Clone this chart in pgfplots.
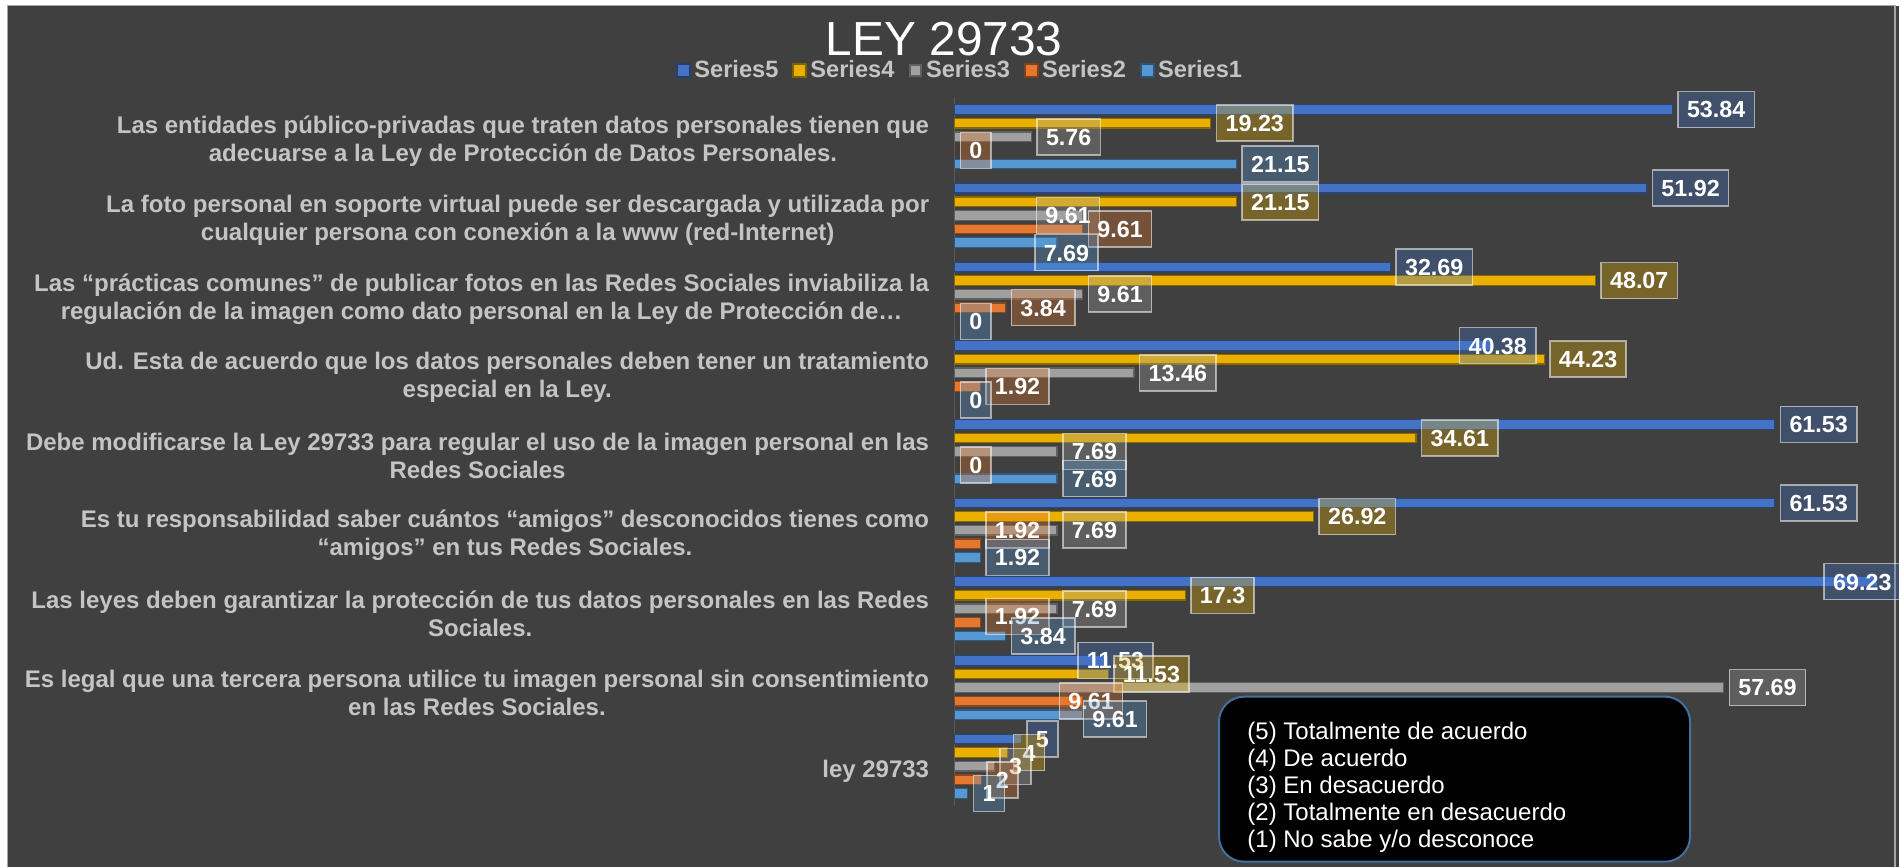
\documentclass[border=0pt]{standalone}
\usepackage{fontspec}
\setmainfont{Liberation Sans}
\usepackage{pgfplots}
\usepackage{pgfplotstable}
\pgfplotsset{compat=1.18}

\definecolor{bg}{HTML}{404040}
\definecolor{framegray}{HTML}{A6A6A6}
\definecolor{axisgray}{HTML}{595959}
\definecolor{labgray}{HTML}{C4C4C4}
\definecolor{boxblue}{HTML}{41719C}
\definecolor{c5}{HTML}{4472C4}
\definecolor{c4}{HTML}{E9B000}
\definecolor{c3}{HTML}{A0A0A0}
\definecolor{c2}{HTML}{E47830}
\definecolor{c1}{HTML}{5698D2}

% y: 0 = "ley 29733" (bottom) ... 8 = top category
\pgfplotstableread{
y x
0 5
1 11.53
2 69.23
3 61.53
4 61.53
5 40.38
6 32.69
7 51.92
8 53.84
}\sfive
\pgfplotstableread{
y x
0 4
1 11.53
2 17.3
3 26.92
4 34.61
5 44.23
6 48.07
7 21.15
8 19.23
}\sfour
\pgfplotstableread{
y x
0 3
1 57.69
2 7.69
3 7.69
4 7.69
5 13.46
6 9.61
7 9.61
8 5.76
}\sthree
\pgfplotstableread{
y x
0 2
1 9.61
2 1.92
3 1.92
4 0
5 1.92
6 3.84
7 9.61
8 0
}\stwo
\pgfplotstableread{
y x
0 1
1 9.61
2 3.84
3 1.92
4 7.69
5 0
6 0
7 7.69
8 21.15
}\sone

\tikzset{lab/.style={font=\fontsize{11.65pt}{14pt}\selectfont\bfseries, text=white, text opacity=1,
  fill=#1, fill opacity=0.32, draw=white, draw opacity=0.55, line width=0.75pt,
  inner xsep=4.5pt, inner ysep=0pt, minimum height=18pt, text height=8.4pt, text depth=0pt, anchor=west}}
\pgfplotsset{
  labplot/.style n args={3}{draw=none, fill=none, forget plot, nodes near coords, point meta=explicit symbolic,
    every node near coord/.append style={lab=#1, xshift={(2.5+0.5*(#2))*1pt}, yshift={0.5*(#3)*1pt}}},
}

\begin{document}
\begin{tikzpicture}[x=0.5pt,y=0.5pt]
\useasboundingbox (0,0) rectangle (1899,867);
\fill[white] (0,0) rectangle (1899,867);
\fill[bg] (7,0) rectangle (1899,861);
\draw[framegray, line width=0.6pt] (7.5,0) -- (7.5,861.5) -- (1895,861.5) -- (1895,0);
\node[text=white, font=\fontsize{23.9pt}{28pt}\selectfont, inner sep=0pt] at (944.2,827.8) {LEY 29733};

% legend
\begin{scope}[every node/.style={anchor=west, inner sep=0pt, text=labgray, font=\fontsize{11.8pt}{14pt}\selectfont\bfseries}]
\filldraw[fill=c5, draw=c5!55!black, line width=1pt] (677,789.5) rectangle (690,802.5);
\node at (694,797.8) {Series5};
\filldraw[fill=c4, draw=c4!55!black, line width=1pt] (793,789.5) rectangle (806,802.5);
\node at (810,797.8) {Series4};
\filldraw[fill=c3, draw=c3!60!black, line width=1pt] (909.5,790.5) rectangle (920.5,801.5);
\node at (925.7,797.8) {Series3};
\filldraw[fill=c2, draw=c2!55!black, line width=1pt] (1025,789.5) rectangle (1038,802.5);
\node at (1041.7,797.8) {Series2};
\filldraw[fill=c1, draw=c1!55!black, line width=1pt] (1141,789.5) rectangle (1154,802.5);
\node at (1157.7,797.8) {Series1};
\end{scope}

\begin{axis}[
  at={(477.25pt,30.7pt)}, anchor=south west,
  scale only axis, width=466.6pt, height=354.1pt,
  xmin=0, xmax=70, ymin=-0.5, ymax=8.5,
  axis x line=none, axis y line*=left,
  y axis line style={draw=axisgray, line width=0.75pt},
  ytick={0,1,2,3,4,5,6,7,8},
  yticklabels={
    {ley 29733},
    {Es legal que una tercera persona utilice tu imagen personal sin consentimiento\\en las Redes Sociales.},
    {Las leyes deben garantizar la protección de tus datos personales en las Redes\\Sociales.},
    {Es tu responsabilidad saber cuántos “amigos” desconocidos tienes como\\“amigos” en tus Redes Sociales.},
    {Debe modificarse la Ley 29733 para regular el uso de la imagen personal en las\\Redes Sociales},
    {Ud. Esta de acuerdo que los datos personales deben tener un tratamiento\\especial en la Ley.},
    {Las “prácticas comunes” de publicar fotos en las Redes Sociales inviabiliza la\\regulación de la imagen como dato personal en la Ley de Protección de…},
    {La foto personal en soporte virtual puede ser descargada y utilizada por\\cualquier persona con conexión a la www (red-Internet)},
    {Las entidades público-privadas que traten datos personales tienen que\\adecuarse a la Ley de Protección de Datos Personales.}
  },
  major tick length=0pt,
  ytick style={draw=none},
  yticklabel style={align=center, font=\fontsize{12pt}{14pt}\selectfont\bfseries, text=labgray, inner sep=0pt, xshift=-12.5pt, yshift=-2.45pt},
  xbar, bar width=4.8pt,
  clip=false,
]
\addplot[fill=c5, draw=c5!60!black, line width=0.6pt, bar shift=13.6pt] table[x=x,y=y] {\sfive};
\addplot[fill=c4, draw=c4!60!black, line width=0.6pt, bar shift=6.8pt] table[x=x,y=y] {\sfour};
\addplot[fill=c3, draw=c3!60!black, line width=0.6pt, bar shift=0pt] table[x=x,y=y] {\sthree};
\addplot[fill=c2, draw=c2!60!black, line width=0.6pt, bar shift=-6.8pt] table[x=x,y=y] {\stwo};
\addplot[fill=c1, draw=c1!60!black, line width=0.6pt, bar shift=-13.6pt] table[x=x,y=y] {\sone};

% data labels (value, category) [label]
\addplot[labplot={c5}{0}{0}, bar shift=13.6pt] coordinates {(5,0)[5] (61.53,3)[61.53] (61.53,4)[61.53] (32.69,6)[32.69] (51.92,7)[51.92] (53.84,8)[53.84]};
\addplot[labplot={c5}{-36}{0}, bar shift=13.6pt] coordinates {(11.53,1)[11.53]};
\addplot[labplot={c5}{-59}{0}, bar shift=13.6pt] coordinates {(69.23,2)[69.23]};
\addplot[labplot={c5}{-39}{0}, bar shift=13.6pt] coordinates {(40.38,5)[40.38]};

\addplot[labplot={c4}{0}{0}, bar shift=6.8pt] coordinates {(4,0)[4] (11.53,1)[11.53] (17.3,2)[17.3] (26.92,3)[26.92] (34.61,4)[34.61] (44.23,5)[44.23] (48.07,6)[48.07] (21.15,7)[21.15] (19.23,8)[19.23]};

\addplot[labplot={c3}{0}{0}, bar shift=0pt] coordinates {(3,0)[3] (57.69,1)[57.69] (7.69,2)[7.69] (7.69,3)[7.69] (7.69,4)[7.69] (13.46,5)[13.46] (9.61,6)[9.61] (5.76,8)[5.76]};
\addplot[labplot={c3}{-52}{0}, bar shift=0pt] coordinates {(9.61,7)[9.61]};

\addplot[labplot={c2}{0}{0}, bar shift=-6.8pt] coordinates {(2,0)[2] (0,4)[0] (1.92,5)[1.92] (3.84,6)[3.84] (9.61,7)[9.61] (0,8)[0]};
\addplot[labplot={c2}{-29}{0}, bar shift=-6.8pt] coordinates {(9.61,1)[9.61]};
\addplot[labplot={c2}{0}{6}, bar shift=-6.8pt] coordinates {(1.92,2)[1.92]};
\addplot[labplot={c2}{0}{14}, bar shift=-6.8pt] coordinates {(1.92,3)[1.92]};

\addplot[labplot={c1}{0}{0}, bar shift=-13.6pt] coordinates {(1,0)[1] (3.84,2)[3.84] (1.92,3)[1.92] (7.69,4)[7.69] (0,5)[0] (0,6)[0] (21.15,8)[21.15]};
\addplot[labplot={c1}{-5}{-4}, bar shift=-13.6pt] coordinates {(9.61,1)[9.61]};
\addplot[labplot={c1}{-28}{-10}, bar shift=-13.6pt] coordinates {(7.69,7)[7.69]};
\end{axis}

\draw[fill=black, draw=boxblue, line width=1pt, rounded corners=12.5pt] (1219,5.3) rectangle (1690,170.3);
\begin{scope}[every node/.style={anchor=west, inner sep=0pt, text=white, font=\fontsize{12pt}{14pt}\selectfont}]
\node at (1247,133.4) {(5) Totalmente de acuerdo};
\node at (1247,106.5) {(4) De acuerdo};
\node at (1247,79.5) {(3) En desacuerdo};
\node at (1247,52.6) {(2) Totalmente en desacuerdo};
\node at (1247,25.6) {(1) No sabe y/o desconoce};
\end{scope}
\end{tikzpicture}
\end{document}
